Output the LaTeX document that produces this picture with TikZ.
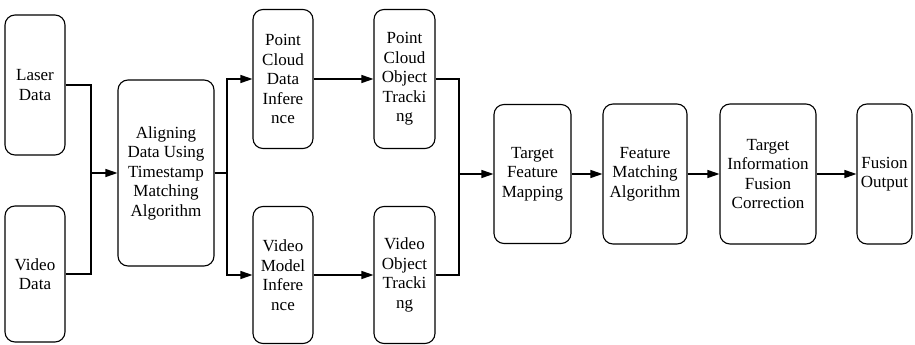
\documentclass[tikz,border=0pt]{standalone}
\usepackage{fontspec}
\setmainfont{Liberation Serif}
\usetikzlibrary{arrows.meta}
\tikzset{
  stage/.style={draw, line width=1.1pt, rounded corners=10pt, align=center,
    inner sep=1pt, font={\fontsize{17}{19.5}\selectfont}},
  arr/.style={-{Triangle[length=12pt,width=8pt]}},
  link/.style={line width=1.1pt}
}
\begin{document}
\begin{tikzpicture}[x=1pt, y=-1pt]
        \useasboundingbox (0,0) rectangle (915,345);

        % Input data
        \node[stage, minimum width=60pt, minimum height=140pt] (laser) at (35,85) {Laser\\Data};
        \node[stage, minimum width=60pt, minimum height=136pt] (video) at (35,274) {Video\\Data};

        % Timestamp alignment
        \node[stage, minimum width=96pt, minimum height=186pt] (align) at (166,173) {Aligning\\Data Using\\Timestamp\\Matching\\Algorithm};

        % Inference branches
        \node[stage, minimum width=60pt, minimum height=139pt] (pcinfer) at (283,79) {Point\\Cloud\\Data\\Infere\\nce};
        \node[stage, minimum width=60pt, minimum height=137pt] (vidinfer) at (283,275) {Video\\Model\\Infere\\nce};

        % Tracking branches
        \node[stage, minimum width=61pt, minimum height=139pt] (pctrack) at (404.5,79) {Point\\Cloud\\Object\\Tracki\\ng};
        \node[stage, minimum width=61pt, minimum height=137pt] (vidtrack) at (404.5,275) {Video\\Object\\Tracki\\ng};

        % Fusion chain
        \node[stage, minimum width=77pt, minimum height=139pt] (mapping) at (532.5,174) {Target\\Feature\\Mapping};
        \node[stage, minimum width=84pt, minimum height=140pt] (matching) at (645,174) {Feature\\Matching\\Algorithm};
        \node[stage, minimum width=96pt, minimum height=140pt] (correct) at (768,174) {Target\\Information\\Fusion\\Correction};
        \node[stage, minimum width=55pt, minimum height=140pt] (output) at (884.5,174) {Fusion\\Output};

        % Junction points
        \coordinate (join1) at (91,173);
        \coordinate (fork) at (227,173);
        \coordinate (join2) at (459,174);

        % Connectors
        \draw[link] (laser.east) -| (join1);
        \draw[link] (video.east) -| (join1);
        \draw[link, arr] (join1) -- (align.west);
        \draw[link] (align.east) -- (fork);
        \draw[link, arr] (fork) |- (pcinfer.west);
        \draw[link, arr] (fork) |- (vidinfer.west);
        \draw[link, arr] (pcinfer) -- (pctrack);
        \draw[link, arr] (vidinfer) -- (vidtrack);
        \draw[link] (pctrack.east) -| (join2);
        \draw[link] (vidtrack.east) -| (join2);
        \draw[link, arr] (join2) -- (mapping.west);
        \draw[link, arr] (mapping) -- (matching);
        \draw[link, arr] (matching) -- (correct);
        \draw[link, arr] (correct) -- (output);
\end{tikzpicture}
\end{document}
